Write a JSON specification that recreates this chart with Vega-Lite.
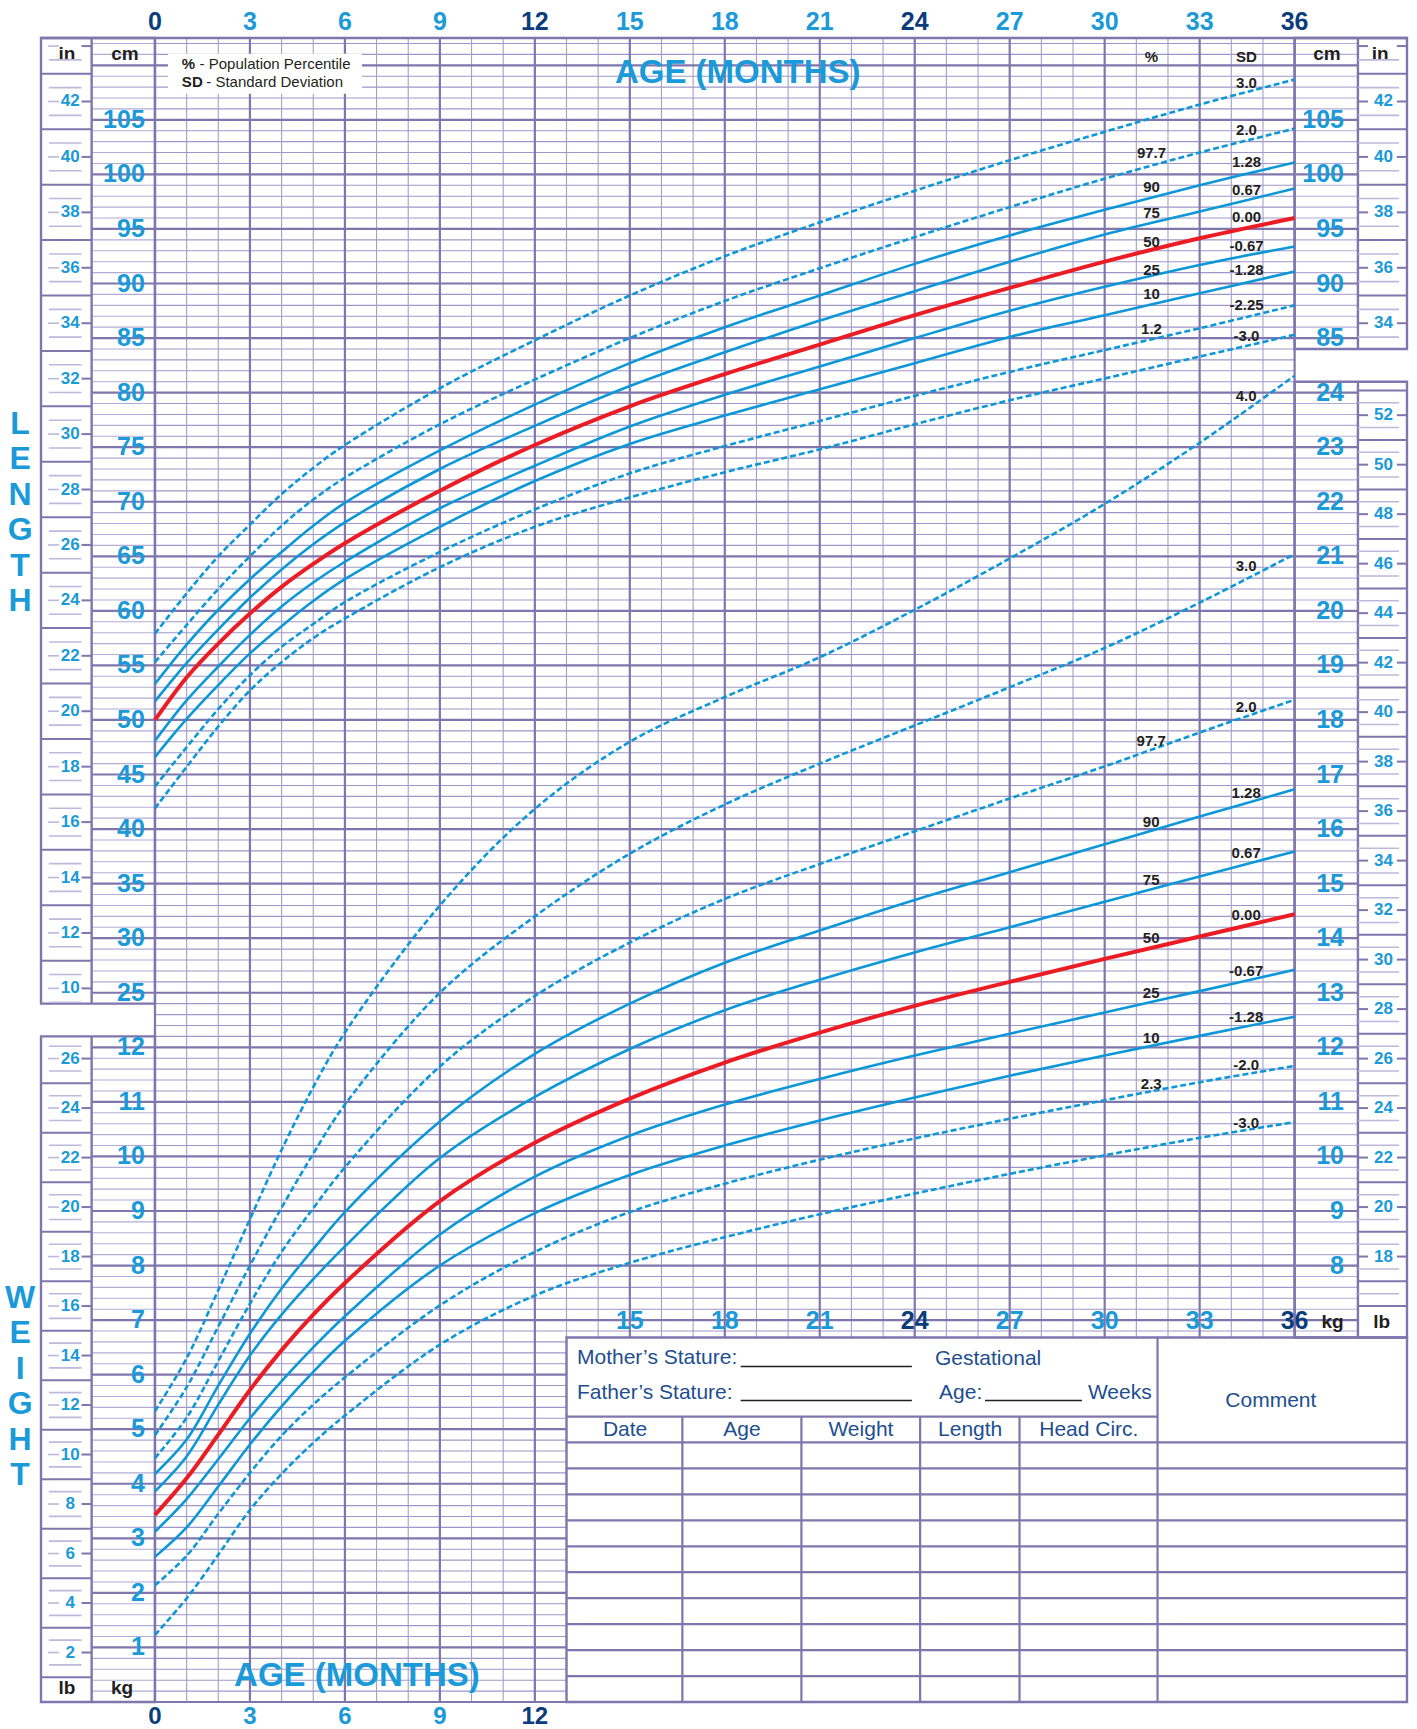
{
"$schema":"https://vega.github.io/schema/vega-lite/v6.json",
"width":1366,"height":1664,"autosize":{"type":"none"},
"padding":{"left":41,"top":38,"right":10,"bottom":27},
"background":"#ffffff",
"config":{"view":{"stroke":null},"text":{"font":"Liberation Sans"}},
"datasets":{
"len":[
{"sd":"3.0","m":0,"v":57.9},{"sd":"3.0","m":1,"v":61.6},{"sd":"3.0","m":2,"v":65.0},{"sd":"3.0","m":3,"v":67.9},{"sd":"3.0","m":4,"v":70.7},{"sd":"3.0","m":5,"v":73.1},{"sd":"3.0","m":6,"v":75.2},{"sd":"3.0","m":9,"v":80.4},{"sd":"3.0","m":12,"v":84.8},{"sd":"3.0","m":15,"v":88.9},{"sd":"3.0","m":18,"v":92.5},{"sd":"3.0","m":21,"v":95.6},{"sd":"3.0","m":24,"v":98.5},{"sd":"3.0","m":27,"v":101.3},{"sd":"3.0","m":30,"v":103.9},{"sd":"3.0","m":33,"v":106.4},{"sd":"3.0","m":36,"v":108.7},
{"sd":"2.0","m":0,"v":55.3},{"sd":"2.0","m":1,"v":58.7},{"sd":"2.0","m":2,"v":62.0},{"sd":"2.0","m":3,"v":65.0},{"sd":"2.0","m":4,"v":67.8},{"sd":"2.0","m":5,"v":70.2},{"sd":"2.0","m":6,"v":72.2},{"sd":"2.0","m":9,"v":77.1},{"sd":"2.0","m":12,"v":81.2},{"sd":"2.0","m":15,"v":85.0},{"sd":"2.0","m":18,"v":88.4},{"sd":"2.0","m":21,"v":91.4},{"sd":"2.0","m":24,"v":94.25},{"sd":"2.0","m":27,"v":97.0},{"sd":"2.0","m":30,"v":99.6},{"sd":"2.0","m":33,"v":102.0},{"sd":"2.0","m":36,"v":104.2},
{"sd":"1.28","m":0,"v":53.3},{"sd":"1.28","m":1,"v":56.9},{"sd":"1.28","m":2,"v":60.1},{"sd":"1.28","m":3,"v":62.9},{"sd":"1.28","m":4,"v":65.4},{"sd":"1.28","m":5,"v":67.8},{"sd":"1.28","m":6,"v":69.9},{"sd":"1.28","m":9,"v":74.7},{"sd":"1.28","m":12,"v":78.9},{"sd":"1.28","m":15,"v":82.7},{"sd":"1.28","m":18,"v":86.0},{"sd":"1.28","m":21,"v":88.9},{"sd":"1.28","m":24,"v":91.8},{"sd":"1.28","m":27,"v":94.4},{"sd":"1.28","m":30,"v":96.75},{"sd":"1.28","m":33,"v":99.0},{"sd":"1.28","m":36,"v":101.1},
{"sd":"0.67","m":0,"v":51.7},{"sd":"0.67","m":1,"v":55.2},{"sd":"0.67","m":2,"v":58.3},{"sd":"0.67","m":3,"v":61.2},{"sd":"0.67","m":4,"v":63.8},{"sd":"0.67","m":5,"v":66.1},{"sd":"0.67","m":6,"v":68.1},{"sd":"0.67","m":9,"v":73.0},{"sd":"0.67","m":12,"v":76.95},{"sd":"0.67","m":15,"v":80.6},{"sd":"0.67","m":18,"v":83.7},{"sd":"0.67","m":21,"v":86.6},{"sd":"0.67","m":24,"v":89.3},{"sd":"0.67","m":27,"v":92.0},{"sd":"0.67","m":30,"v":94.5},{"sd":"0.67","m":33,"v":96.6},{"sd":"0.67","m":36,"v":98.7},
{"sd":"0.00","m":0,"v":50.0},{"sd":"0.00","m":1,"v":53.9},{"sd":"0.00","m":2,"v":57.0},{"sd":"0.00","m":3,"v":59.75},{"sd":"0.00","m":4,"v":62.2},{"sd":"0.00","m":5,"v":64.3},{"sd":"0.00","m":6,"v":66.2},{"sd":"0.00","m":9,"v":71.0},{"sd":"0.00","m":12,"v":75.2},{"sd":"0.00","m":15,"v":78.75},{"sd":"0.00","m":18,"v":81.7},{"sd":"0.00","m":21,"v":84.4},{"sd":"0.00","m":24,"v":87.1},{"sd":"0.00","m":27,"v":89.6},{"sd":"0.00","m":30,"v":92.0},{"sd":"0.00","m":33,"v":94.15},{"sd":"0.00","m":36,"v":96.0},
{"sd":"-0.67","m":0,"v":48.1},{"sd":"-0.67","m":1,"v":51.8},{"sd":"-0.67","m":2,"v":54.9},{"sd":"-0.67","m":3,"v":57.8},{"sd":"-0.67","m":4,"v":60.4},{"sd":"-0.67","m":5,"v":62.6},{"sd":"-0.67","m":6,"v":64.5},{"sd":"-0.67","m":9,"v":69.4},{"sd":"-0.67","m":12,"v":73.3},{"sd":"-0.67","m":15,"v":76.9},{"sd":"-0.67","m":18,"v":79.8},{"sd":"-0.67","m":21,"v":82.4},{"sd":"-0.67","m":24,"v":85.0},{"sd":"-0.67","m":27,"v":87.5},{"sd":"-0.67","m":30,"v":89.7},{"sd":"-0.67","m":33,"v":91.7},{"sd":"-0.67","m":36,"v":93.4},
{"sd":"-1.28","m":0,"v":46.6},{"sd":"-1.28","m":1,"v":50.1},{"sd":"-1.28","m":2,"v":53.2},{"sd":"-1.28","m":3,"v":56.1},{"sd":"-1.28","m":4,"v":58.6},{"sd":"-1.28","m":5,"v":60.9},{"sd":"-1.28","m":6,"v":62.9},{"sd":"-1.28","m":9,"v":67.7},{"sd":"-1.28","m":12,"v":71.9},{"sd":"-1.28","m":15,"v":75.3},{"sd":"-1.28","m":18,"v":77.9},{"sd":"-1.28","m":21,"v":80.3},{"sd":"-1.28","m":24,"v":82.7},{"sd":"-1.28","m":27,"v":85.1},{"sd":"-1.28","m":30,"v":87.1},{"sd":"-1.28","m":33,"v":89.1},{"sd":"-1.28","m":36,"v":91.1},
{"sd":"-2.25","m":0,"v":43.9},{"sd":"-2.25","m":1,"v":47.5},{"sd":"-2.25","m":2,"v":51.0},{"sd":"-2.25","m":3,"v":54.1},{"sd":"-2.25","m":4,"v":56.7},{"sd":"-2.25","m":5,"v":58.8},{"sd":"-2.25","m":6,"v":60.8},{"sd":"-2.25","m":9,"v":65.4},{"sd":"-2.25","m":12,"v":69.3},{"sd":"-2.25","m":15,"v":72.6},{"sd":"-2.25","m":18,"v":75.1},{"sd":"-2.25","m":21,"v":77.4},{"sd":"-2.25","m":24,"v":79.7},{"sd":"-2.25","m":27,"v":81.9},{"sd":"-2.25","m":30,"v":83.9},{"sd":"-2.25","m":33,"v":85.9},{"sd":"-2.25","m":36,"v":88.0},
{"sd":"-3.0","m":0,"v":41.9},{"sd":"-3.0","m":1,"v":45.7},{"sd":"-3.0","m":2,"v":49.4},{"sd":"-3.0","m":3,"v":52.7},{"sd":"-3.0","m":4,"v":55.3},{"sd":"-3.0","m":5,"v":57.5},{"sd":"-3.0","m":6,"v":59.3},{"sd":"-3.0","m":9,"v":64.0},{"sd":"-3.0","m":12,"v":67.7},{"sd":"-3.0","m":15,"v":70.4},{"sd":"-3.0","m":18,"v":72.7},{"sd":"-3.0","m":21,"v":74.8},{"sd":"-3.0","m":24,"v":77.1},{"sd":"-3.0","m":27,"v":79.3},{"sd":"-3.0","m":30,"v":81.3},{"sd":"-3.0","m":33,"v":83.3},{"sd":"-3.0","m":36,"v":85.3}
],
"wt":[
{"sd":"4.0","m":0,"v":5.33},{"sd":"4.0","m":1,"v":6.3},{"sd":"4.0","m":2,"v":7.55},{"sd":"4.0","m":3,"v":8.85},{"sd":"4.0","m":4,"v":10.12},{"sd":"4.0","m":5,"v":11.27},{"sd":"4.0","m":6,"v":12.27},{"sd":"4.0","m":9,"v":14.6},{"sd":"4.0","m":12,"v":16.37},{"sd":"4.0","m":15,"v":17.6},{"sd":"4.0","m":18,"v":18.42},{"sd":"4.0","m":21,"v":19.15},{"sd":"4.0","m":24,"v":20.02},{"sd":"4.0","m":27,"v":20.96},{"sd":"4.0","m":30,"v":21.96},{"sd":"4.0","m":33,"v":23.08},{"sd":"4.0","m":36,"v":24.31},
{"sd":"3.0","m":0,"v":4.89},{"sd":"3.0","m":1,"v":5.77},{"sd":"3.0","m":2,"v":6.88},{"sd":"3.0","m":3,"v":8.0},{"sd":"3.0","m":4,"v":9.06},{"sd":"3.0","m":5,"v":10.05},{"sd":"3.0","m":6,"v":10.95},{"sd":"3.0","m":9,"v":13.0},{"sd":"3.0","m":12,"v":14.4},{"sd":"3.0","m":15,"v":15.55},{"sd":"3.0","m":18,"v":16.45},{"sd":"3.0","m":21,"v":17.2},{"sd":"3.0","m":24,"v":17.9},{"sd":"3.0","m":27,"v":18.6},{"sd":"3.0","m":30,"v":19.32},{"sd":"3.0","m":33,"v":20.15},{"sd":"3.0","m":36,"v":21.04},
{"sd":"2.0","m":0,"v":4.47},{"sd":"2.0","m":1,"v":5.21},{"sd":"2.0","m":2,"v":6.25},{"sd":"2.0","m":3,"v":7.3},{"sd":"2.0","m":4,"v":8.25},{"sd":"2.0","m":5,"v":9.05},{"sd":"2.0","m":6,"v":9.8},{"sd":"2.0","m":9,"v":11.65},{"sd":"2.0","m":12,"v":12.94},{"sd":"2.0","m":15,"v":13.92},{"sd":"2.0","m":18,"v":14.72},{"sd":"2.0","m":21,"v":15.36},{"sd":"2.0","m":24,"v":15.96},{"sd":"2.0","m":27,"v":16.56},{"sd":"2.0","m":30,"v":17.15},{"sd":"2.0","m":33,"v":17.77},{"sd":"2.0","m":36,"v":18.37},
{"sd":"1.28","m":0,"v":4.18},{"sd":"1.28","m":1,"v":4.81},{"sd":"1.28","m":2,"v":5.8},{"sd":"1.28","m":3,"v":6.75},{"sd":"1.28","m":4,"v":7.58},{"sd":"1.28","m":5,"v":8.3},{"sd":"1.28","m":6,"v":8.98},{"sd":"1.28","m":9,"v":10.64},{"sd":"1.28","m":12,"v":11.88},{"sd":"1.28","m":15,"v":12.8},{"sd":"1.28","m":18,"v":13.55},{"sd":"1.28","m":21,"v":14.14},{"sd":"1.28","m":24,"v":14.7},{"sd":"1.28","m":27,"v":15.21},{"sd":"1.28","m":30,"v":15.72},{"sd":"1.28","m":33,"v":16.23},{"sd":"1.28","m":36,"v":16.73},
{"sd":"0.67","m":0,"v":3.86},{"sd":"0.67","m":1,"v":4.5},{"sd":"0.67","m":2,"v":5.45},{"sd":"0.67","m":3,"v":6.35},{"sd":"0.67","m":4,"v":7.1},{"sd":"0.67","m":5,"v":7.75},{"sd":"0.67","m":6,"v":8.35},{"sd":"0.67","m":9,"v":9.97},{"sd":"0.67","m":12,"v":11.09},{"sd":"0.67","m":15,"v":11.97},{"sd":"0.67","m":18,"v":12.68},{"sd":"0.67","m":21,"v":13.24},{"sd":"0.67","m":24,"v":13.74},{"sd":"0.67","m":27,"v":14.2},{"sd":"0.67","m":30,"v":14.67},{"sd":"0.67","m":33,"v":15.13},{"sd":"0.67","m":36,"v":15.59},
{"sd":"0.00","m":0,"v":3.43},{"sd":"0.00","m":1,"v":4.1},{"sd":"0.00","m":2,"v":4.9},{"sd":"0.00","m":3,"v":5.72},{"sd":"0.00","m":4,"v":6.45},{"sd":"0.00","m":5,"v":7.1},{"sd":"0.00","m":6,"v":7.68},{"sd":"0.00","m":9,"v":9.18},{"sd":"0.00","m":12,"v":10.25},{"sd":"0.00","m":15,"v":11.06},{"sd":"0.00","m":18,"v":11.72},{"sd":"0.00","m":21,"v":12.27},{"sd":"0.00","m":24,"v":12.76},{"sd":"0.00","m":27,"v":13.2},{"sd":"0.00","m":30,"v":13.62},{"sd":"0.00","m":33,"v":14.03},{"sd":"0.00","m":36,"v":14.44},
{"sd":"-0.67","m":0,"v":3.12},{"sd":"-0.67","m":1,"v":3.72},{"sd":"-0.67","m":2,"v":4.45},{"sd":"-0.67","m":3,"v":5.2},{"sd":"-0.67","m":4,"v":5.88},{"sd":"-0.67","m":5,"v":6.5},{"sd":"-0.67","m":6,"v":7.07},{"sd":"-0.67","m":9,"v":8.57},{"sd":"-0.67","m":12,"v":9.63},{"sd":"-0.67","m":15,"v":10.38},{"sd":"-0.67","m":18,"v":10.95},{"sd":"-0.67","m":21,"v":11.42},{"sd":"-0.67","m":24,"v":11.85},{"sd":"-0.67","m":27,"v":12.25},{"sd":"-0.67","m":30,"v":12.64},{"sd":"-0.67","m":33,"v":13.03},{"sd":"-0.67","m":36,"v":13.42},
{"sd":"-1.28","m":0,"v":2.66},{"sd":"-1.28","m":1,"v":3.2},{"sd":"-1.28","m":2,"v":3.95},{"sd":"-1.28","m":3,"v":4.72},{"sd":"-1.28","m":4,"v":5.42},{"sd":"-1.28","m":5,"v":6.05},{"sd":"-1.28","m":6,"v":6.62},{"sd":"-1.28","m":9,"v":8.0},{"sd":"-1.28","m":12,"v":8.96},{"sd":"-1.28","m":15,"v":9.66},{"sd":"-1.28","m":18,"v":10.2},{"sd":"-1.28","m":21,"v":10.66},{"sd":"-1.28","m":24,"v":11.08},{"sd":"-1.28","m":27,"v":11.48},{"sd":"-1.28","m":30,"v":11.85},{"sd":"-1.28","m":33,"v":12.21},{"sd":"-1.28","m":36,"v":12.56},
{"sd":"-2.0","m":0,"v":2.14},{"sd":"-2.0","m":1,"v":2.68},{"sd":"-2.0","m":2,"v":3.45},{"sd":"-2.0","m":3,"v":4.2},{"sd":"-2.0","m":4,"v":4.88},{"sd":"-2.0","m":5,"v":5.45},{"sd":"-2.0","m":6,"v":5.95},{"sd":"-2.0","m":9,"v":7.27},{"sd":"-2.0","m":12,"v":8.25},{"sd":"-2.0","m":15,"v":8.98},{"sd":"-2.0","m":18,"v":9.5},{"sd":"-2.0","m":21,"v":9.94},{"sd":"-2.0","m":24,"v":10.33},{"sd":"-2.0","m":27,"v":10.69},{"sd":"-2.0","m":30,"v":11.03},{"sd":"-2.0","m":33,"v":11.36},{"sd":"-2.0","m":36,"v":11.66},
{"sd":"-3.0","m":0,"v":1.23},{"sd":"-3.0","m":1,"v":1.9},{"sd":"-3.0","m":2,"v":2.7},{"sd":"-3.0","m":3,"v":3.52},{"sd":"-3.0","m":4,"v":4.18},{"sd":"-3.0","m":5,"v":4.75},{"sd":"-3.0","m":6,"v":5.25},{"sd":"-3.0","m":9,"v":6.55},{"sd":"-3.0","m":12,"v":7.45},{"sd":"-3.0","m":15,"v":8.05},{"sd":"-3.0","m":18,"v":8.52},{"sd":"-3.0","m":21,"v":8.94},{"sd":"-3.0","m":24,"v":9.32},{"sd":"-3.0","m":27,"v":9.68},{"sd":"-3.0","m":30,"v":10.02},{"sd":"-3.0","m":33,"v":10.34},{"sd":"-3.0","m":36,"v":10.63}
],
"lenLab":[
{"t":"%","m":31.48,"v":110.8},{"t":"SD","m":34.48,"v":110.8},
{"t":"3.0","m":34.48,"v":108.4},{"t":"2.0","m":34.48,"v":104.1},{"t":"1.28","m":34.48,"v":101.15},{"t":"0.67","m":34.48,"v":98.6},{"t":"0.00","m":34.48,"v":96.1},{"t":"-0.67","m":34.48,"v":93.4},{"t":"-1.28","m":34.48,"v":91.25},{"t":"-2.25","m":34.48,"v":88.0},{"t":"-3.0","m":34.48,"v":85.2},
{"t":"97.7","m":31.48,"v":102.0},{"t":"90","m":31.48,"v":98.8},{"t":"75","m":31.48,"v":96.5},{"t":"50","m":31.48,"v":93.8},{"t":"25","m":31.48,"v":91.25},{"t":"10","m":31.48,"v":89.05},{"t":"1.2","m":31.48,"v":85.8}
],
"wtLab":[
{"t":"4.0","m":34.47,"v":23.94},{"t":"3.0","m":34.47,"v":20.82},{"t":"2.0","m":34.47,"v":18.23},{"t":"1.28","m":34.47,"v":16.66},{"t":"0.67","m":34.47,"v":15.57},{"t":"0.00","m":34.47,"v":14.43},{"t":"-0.67","m":34.47,"v":13.4},{"t":"-1.28","m":34.47,"v":12.56},{"t":"-2.0","m":34.47,"v":11.67},{"t":"-3.0","m":34.47,"v":10.61},
{"t":"97.7","m":31.47,"v":17.62},{"t":"90","m":31.47,"v":16.13},{"t":"75","m":31.47,"v":15.07},{"t":"50","m":31.47,"v":14.0},{"t":"25","m":31.47,"v":12.99},{"t":"10","m":31.47,"v":12.17},{"t":"2.3","m":31.47,"v":11.33}
],
"months":[{"m":0},{"m":3},{"m":6},{"m":9},{"m":12},{"m":15},{"m":18},{"m":21},{"m":24},{"m":27},{"m":30},{"m":33},{"m":36}],
"vlines":[{"m":0},{"m":1},{"m":2},{"m":3},{"m":4},{"m":5},{"m":6},{"m":7},{"m":8},{"m":9},{"m":10},{"m":11},{"m":12},{"m":13},{"m":14},{"m":15},{"m":16},{"m":17},{"m":18},{"m":19},{"m":20},{"m":21},{"m":22},{"m":23},{"m":24},{"m":25},{"m":26},{"m":27},{"m":28},{"m":29},{"m":30},{"m":31},{"m":32},{"m":33},{"m":34},{"m":35},{"m":36}],
"hMinor":[{"kg":0.2},{"kg":0.4},{"kg":0.6},{"kg":0.8},{"kg":1.2},{"kg":1.4},{"kg":1.6},{"kg":1.8},{"kg":2.2},{"kg":2.4},{"kg":2.6},{"kg":2.8},{"kg":3.2},{"kg":3.4},{"kg":3.6},{"kg":3.8},{"kg":4.2},{"kg":4.4},{"kg":4.6},{"kg":4.8},{"kg":5.2},{"kg":5.4},{"kg":5.6},{"kg":5.8},{"kg":6.2},{"kg":6.4},{"kg":6.6},{"kg":6.8},{"kg":7.2},{"kg":7.4},{"kg":7.6},{"kg":7.8},{"kg":8.2},{"kg":8.4},{"kg":8.6},{"kg":8.8},{"kg":9.2},{"kg":9.4},{"kg":9.6},{"kg":9.8},{"kg":10.2},{"kg":10.4},{"kg":10.6},{"kg":10.8},{"kg":11.2},{"kg":11.4},{"kg":11.6},{"kg":11.8},{"kg":12.2},{"kg":12.4},{"kg":12.6},{"kg":12.8},{"kg":13.2},{"kg":13.4},{"kg":13.6},{"kg":13.8},{"kg":14.2},{"kg":14.4},{"kg":14.6},{"kg":14.8},{"kg":15.2},{"kg":15.4},{"kg":15.6},{"kg":15.8},{"kg":16.2},{"kg":16.4},{"kg":16.6},{"kg":16.8},{"kg":17.2},{"kg":17.4},{"kg":17.6},{"kg":17.8},{"kg":18.2},{"kg":18.4},{"kg":18.6},{"kg":18.8},{"kg":19.2},{"kg":19.4},{"kg":19.6},{"kg":19.8},{"kg":20.2},{"kg":20.4},{"kg":20.6},{"kg":20.8},{"kg":21.2},{"kg":21.4},{"kg":21.6},{"kg":21.8},{"kg":22.2},{"kg":22.4},{"kg":22.6},{"kg":22.8},{"kg":23.2},{"kg":23.4},{"kg":23.6},{"kg":23.8},{"kg":24.2},{"kg":24.4},{"kg":24.6},{"kg":24.8},{"kg":25.2},{"kg":25.4},{"kg":25.6},{"kg":25.8},{"kg":26.2},{"kg":26.4},{"kg":26.6},{"kg":26.8},{"kg":27.2},{"kg":27.4},{"kg":27.6},{"kg":27.8},{"kg":28.2},{"kg":28.4},{"kg":28.6},{"kg":28.8},{"kg":29.2},{"kg":29.4},{"kg":29.6},{"kg":29.8},{"kg":30.2},{"kg":30.4}],
"hMajor":[{"kg":0},{"kg":1},{"kg":2},{"kg":3},{"kg":4},{"kg":5},{"kg":6},{"kg":7},{"kg":8},{"kg":9},{"kg":10},{"kg":11},{"kg":12},{"kg":13},{"kg":14},{"kg":15},{"kg":16},{"kg":17},{"kg":18},{"kg":19},{"kg":20},{"kg":21},{"kg":22},{"kg":23},{"kg":24},{"kg":25},{"kg":26},{"kg":27},{"kg":28},{"kg":29},{"kg":30}],
"cm":[{"v":25},{"v":30},{"v":35},{"v":40},{"v":45},{"v":50},{"v":55},{"v":60},{"v":65},{"v":70},{"v":75},{"v":80},{"v":85},{"v":90},{"v":95},{"v":100},{"v":105}],
"kg":[{"v":1},{"v":2},{"v":3},{"v":4},{"v":5},{"v":6},{"v":7},{"v":8},{"v":9},{"v":10},{"v":11},{"v":12},{"v":13},{"v":14},{"v":15},{"v":16},{"v":17},{"v":18},{"v":19},{"v":20},{"v":21},{"v":22},{"v":23},{"v":24}],
"inch":[{"v":9.5},{"v":10},{"v":10.5},{"v":11},{"v":11.5},{"v":12},{"v":12.5},{"v":13},{"v":13.5},{"v":14},{"v":14.5},{"v":15},{"v":15.5},{"v":16},{"v":16.5},{"v":17},{"v":17.5},{"v":18},{"v":18.5},{"v":19},{"v":19.5},{"v":20},{"v":20.5},{"v":21},{"v":21.5},{"v":22},{"v":22.5},{"v":23},{"v":23.5},{"v":24},{"v":24.5},{"v":25},{"v":25.5},{"v":26},{"v":26.5},{"v":27},{"v":27.5},{"v":28},{"v":28.5},{"v":29},{"v":29.5},{"v":30},{"v":30.5},{"v":31},{"v":31.5},{"v":32},{"v":32.5},{"v":33},{"v":33.5},{"v":34},{"v":34.5},{"v":35},{"v":35.5},{"v":36},{"v":36.5},{"v":37},{"v":37.5},{"v":38},{"v":38.5},{"v":39},{"v":39.5},{"v":40},{"v":40.5},{"v":41},{"v":41.5},{"v":42},{"v":42.5},{"v":43},{"v":43.5},{"v":44}],
"lb":[{"v":0.5},{"v":1},{"v":1.5},{"v":2},{"v":2.5},{"v":3},{"v":3.5},{"v":4},{"v":4.5},{"v":5},{"v":5.5},{"v":6},{"v":6.5},{"v":7},{"v":7.5},{"v":8},{"v":8.5},{"v":9},{"v":9.5},{"v":10},{"v":10.5},{"v":11},{"v":11.5},{"v":12},{"v":12.5},{"v":13},{"v":13.5},{"v":14},{"v":14.5},{"v":15},{"v":15.5},{"v":16},{"v":16.5},{"v":17},{"v":17.5},{"v":18},{"v":18.5},{"v":19},{"v":19.5},{"v":20},{"v":20.5},{"v":21},{"v":21.5},{"v":22},{"v":22.5},{"v":23},{"v":23.5},{"v":24},{"v":24.5},{"v":25},{"v":25.5},{"v":26},{"v":26.5},{"v":27},{"v":27.5},{"v":28},{"v":28.5},{"v":29},{"v":29.5},{"v":30},{"v":30.5},{"v":31},{"v":31.5},{"v":32},{"v":32.5},{"v":33},{"v":33.5},{"v":34},{"v":34.5},{"v":35},{"v":35.5},{"v":36},{"v":36.5},{"v":37},{"v":37.5},{"v":38},{"v":38.5},{"v":39},{"v":39.5},{"v":40},{"v":40.5},{"v":41},{"v":41.5},{"v":42},{"v":42.5},{"v":43},{"v":43.5},{"v":44},{"v":44.5},{"v":45},{"v":45.5},{"v":46},{"v":46.5},{"v":47},{"v":47.5},{"v":48},{"v":48.5},{"v":49},{"v":49.5},{"v":50},{"v":50.5},{"v":51},{"v":51.5},{"v":52},{"v":52.5},{"v":53}],
"tRows":[{"kg":0.476},{"kg":0.951},{"kg":1.427},{"kg":1.903},{"kg":2.379},{"kg":2.854},{"kg":3.33},{"kg":3.806},{"kg":4.281},{"kg":4.757}],
"tCols":[{"m":16.66},{"m":20.42},{"m":24.17},{"m":27.31}],
"tHead":[{"t":"Date","m":14.85},{"t":"Age","m":18.54},{"t":"Weight","m":22.3},{"t":"Length","m":25.75},{"t":"Head Circ.","m":29.5}]
},
"resolve":{"scale":{"y":"independent"}},
"layer":[
{"layer":[
{"data":{"name":"hMinor"},"transform":[{"filter":"datum.kg > 6.68"}],"mark":{"type":"rule","color":"#9d97c7","strokeWidth":1.1},"encoding":{"x":{"datum":0,"type":"quantitative","scale":{"domain":[-3.6,39.55],"nice":false,"zero":false},"axis":null},"x2":{"datum":36},"y":{"field":"kg","type":"quantitative","scale":{"domain":[0,30.5],"nice":false,"zero":false},"axis":null}}},
{"data":{"name":"hMinor"},"transform":[{"filter":"datum.kg < 6.68"}],"mark":{"type":"rule","color":"#9d97c7","strokeWidth":1.1},"encoding":{"x":{"datum":0,"type":"quantitative","scale":{"domain":[-3.6,39.55],"nice":false,"zero":false},"axis":null},"x2":{"datum":13},"y":{"field":"kg","type":"quantitative","scale":{"domain":[0,30.5],"nice":false,"zero":false},"axis":null}}},
{"data":{"name":"hMinor"},"transform":[{"filter":"datum.kg < 12.19 || datum.kg > 12.81"}],"mark":{"type":"rule","color":"#b2acd6","strokeWidth":1.1},"encoding":{"x":{"datum":-2,"type":"quantitative","scale":{"domain":[-3.6,39.55],"nice":false,"zero":false},"axis":null},"x2":{"datum":0},"y":{"field":"kg","type":"quantitative","scale":{"domain":[0,30.5],"nice":false,"zero":false},"axis":null}}},
{"data":{"name":"hMinor"},"transform":[{"filter":"(datum.kg > 6.68 && datum.kg < 24.19) || datum.kg > 24.81"}],"mark":{"type":"rule","color":"#b2acd6","strokeWidth":1.1},"encoding":{"x":{"datum":36,"type":"quantitative","scale":{"domain":[-3.6,39.55],"nice":false,"zero":false},"axis":null},"x2":{"datum":38},"y":{"field":"kg","type":"quantitative","scale":{"domain":[0,30.5],"nice":false,"zero":false},"axis":null}}},
{"data":{"name":"vlines"},"transform":[{"filter":"datum.m % 3 != 0 && datum.m <= 13"}],"mark":{"type":"rule","color":"#a49ecb","strokeWidth":1.1},"encoding":{"x":{"field":"m","type":"quantitative","scale":{"domain":[-3.6,39.55],"nice":false,"zero":false},"axis":null},"y":{"datum":0,"type":"quantitative","scale":{"domain":[0,30.5],"nice":false,"zero":false},"axis":null},"y2":{"datum":30.5}}},
{"data":{"name":"vlines"},"transform":[{"filter":"datum.m % 3 != 0 && datum.m > 13"}],"mark":{"type":"rule","color":"#a49ecb","strokeWidth":1.1},"encoding":{"x":{"field":"m","type":"quantitative","scale":{"domain":[-3.6,39.55],"nice":false,"zero":false},"axis":null},"y":{"datum":6.68,"type":"quantitative","scale":{"domain":[0,30.5],"nice":false,"zero":false},"axis":null},"y2":{"datum":30.5}}},
{"data":{"name":"hMajor"},"transform":[{"filter":"datum.kg > 6.68"}],"mark":{"type":"rule","color":"#7f76ad","strokeWidth":2.2},"encoding":{"x":{"datum":0,"type":"quantitative","scale":{"domain":[-3.6,39.55],"nice":false,"zero":false},"axis":null},"x2":{"datum":36},"y":{"field":"kg","type":"quantitative","scale":{"domain":[0,30.5],"nice":false,"zero":false},"axis":null}}},
{"data":{"name":"hMajor"},"transform":[{"filter":"datum.kg < 6.68"}],"mark":{"type":"rule","color":"#7f76ad","strokeWidth":2.2},"encoding":{"x":{"datum":0,"type":"quantitative","scale":{"domain":[-3.6,39.55],"nice":false,"zero":false},"axis":null},"x2":{"datum":13},"y":{"field":"kg","type":"quantitative","scale":{"domain":[0,30.5],"nice":false,"zero":false},"axis":null}}},
{"data":{"name":"hMajor"},"transform":[{"filter":"datum.kg < 12.19 || datum.kg > 12.81"}],"mark":{"type":"rule","color":"#7f76ad","strokeWidth":2.2},"encoding":{"x":{"datum":-2,"type":"quantitative","scale":{"domain":[-3.6,39.55],"nice":false,"zero":false},"axis":null},"x2":{"datum":0},"y":{"field":"kg","type":"quantitative","scale":{"domain":[0,30.5],"nice":false,"zero":false},"axis":null}}},
{"data":{"name":"hMajor"},"transform":[{"filter":"(datum.kg > 6.68 && datum.kg < 24.19) || datum.kg > 24.81"}],"mark":{"type":"rule","color":"#7f76ad","strokeWidth":2.2},"encoding":{"x":{"datum":36,"type":"quantitative","scale":{"domain":[-3.6,39.55],"nice":false,"zero":false},"axis":null},"x2":{"datum":38},"y":{"field":"kg","type":"quantitative","scale":{"domain":[0,30.5],"nice":false,"zero":false},"axis":null}}},
{"data":{"name":"vlines"},"transform":[{"filter":"datum.m % 3 == 0 && datum.m <= 13"}],"mark":{"type":"rule","color":"#7f76ad","strokeWidth":2.2},"encoding":{"x":{"field":"m","type":"quantitative","scale":{"domain":[-3.6,39.55],"nice":false,"zero":false},"axis":null},"y":{"datum":0,"type":"quantitative","scale":{"domain":[0,30.5],"nice":false,"zero":false},"axis":null},"y2":{"datum":30.5}}},
{"data":{"name":"vlines"},"transform":[{"filter":"datum.m % 3 == 0 && datum.m > 13"}],"mark":{"type":"rule","color":"#7f76ad","strokeWidth":2.2},"encoding":{"x":{"field":"m","type":"quantitative","scale":{"domain":[-3.6,39.55],"nice":false,"zero":false},"axis":null},"y":{"datum":6.68,"type":"quantitative","scale":{"domain":[0,30.5],"nice":false,"zero":false},"axis":null},"y2":{"datum":30.5}}},
{"data":{"values":[{}]},"mark":{"type":"rule","color":"#7f76ad","strokeWidth":2.4},"encoding":{"x":{"datum":-3.6,"type":"quantitative","scale":{"domain":[-3.6,39.55],"nice":false,"zero":false},"axis":null},"x2":{"datum":39.55},"y":{"datum":30.5,"type":"quantitative","scale":{"domain":[0,30.5],"nice":false,"zero":false},"axis":null}}},
{"data":{"values":[{}]},"mark":{"type":"rect","filled":false,"color":"#7f76ad","strokeWidth":2.4},"encoding":{"x":{"datum":-3.6,"type":"quantitative","scale":{"domain":[-3.6,39.55],"nice":false,"zero":false},"axis":null},"x2":{"datum":0},"y":{"datum":12.8,"type":"quantitative","scale":{"domain":[0,30.5],"nice":false,"zero":false},"axis":null},"y2":{"datum":30.5}}},
{"data":{"values":[{}]},"mark":{"type":"rect","filled":false,"color":"#7f76ad","strokeWidth":2.4},"encoding":{"x":{"datum":-3.6,"type":"quantitative","scale":{"domain":[-3.6,39.55],"nice":false,"zero":false},"axis":null},"x2":{"datum":0},"y":{"datum":0,"type":"quantitative","scale":{"domain":[0,30.5],"nice":false,"zero":false},"axis":null},"y2":{"datum":12.2}}},
{"data":{"values":[{}]},"mark":{"type":"rect","filled":false,"color":"#7f76ad","strokeWidth":2.4},"encoding":{"x":{"datum":36,"type":"quantitative","scale":{"domain":[-3.6,39.55],"nice":false,"zero":false},"axis":null},"x2":{"datum":39.55},"y":{"datum":24.8,"type":"quantitative","scale":{"domain":[0,30.5],"nice":false,"zero":false},"axis":null},"y2":{"datum":30.5}}},
{"data":{"values":[{}]},"mark":{"type":"rect","filled":false,"color":"#7f76ad","strokeWidth":2.4},"encoding":{"x":{"datum":36,"type":"quantitative","scale":{"domain":[-3.6,39.55],"nice":false,"zero":false},"axis":null},"x2":{"datum":39.55},"y":{"datum":6.68,"type":"quantitative","scale":{"domain":[0,30.5],"nice":false,"zero":false},"axis":null},"y2":{"datum":24.2}}},
{"data":{"values":[{}]},"mark":{"type":"rule","color":"#7f76ad","strokeWidth":2.4},"encoding":{"x":{"datum":-2,"type":"quantitative","scale":{"domain":[-3.6,39.55],"nice":false,"zero":false},"axis":null},"y":{"datum":12.8,"type":"quantitative","scale":{"domain":[0,30.5],"nice":false,"zero":false},"axis":null},"y2":{"datum":30.5}}},
{"data":{"values":[{}]},"mark":{"type":"rule","color":"#7f76ad","strokeWidth":2.4},"encoding":{"x":{"datum":-2,"type":"quantitative","scale":{"domain":[-3.6,39.55],"nice":false,"zero":false},"axis":null},"y":{"datum":0,"type":"quantitative","scale":{"domain":[0,30.5],"nice":false,"zero":false},"axis":null},"y2":{"datum":12.2}}},
{"data":{"values":[{}]},"mark":{"type":"rule","color":"#7f76ad","strokeWidth":2.4},"encoding":{"x":{"datum":38,"type":"quantitative","scale":{"domain":[-3.6,39.55],"nice":false,"zero":false},"axis":null},"y":{"datum":24.8,"type":"quantitative","scale":{"domain":[0,30.5],"nice":false,"zero":false},"axis":null},"y2":{"datum":30.5}}},
{"data":{"values":[{}]},"mark":{"type":"rule","color":"#7f76ad","strokeWidth":2.4},"encoding":{"x":{"datum":38,"type":"quantitative","scale":{"domain":[-3.6,39.55],"nice":false,"zero":false},"axis":null},"y":{"datum":6.68,"type":"quantitative","scale":{"domain":[0,30.5],"nice":false,"zero":false},"axis":null},"y2":{"datum":24.2}}},
{"data":{"values":[{}]},"mark":{"type":"rect","filled":false,"color":"#7f76ad","strokeWidth":2.4},"encoding":{"x":{"datum":13,"type":"quantitative","scale":{"domain":[-3.6,39.55],"nice":false,"zero":false},"axis":null},"x2":{"datum":39.55},"y":{"datum":0,"type":"quantitative","scale":{"domain":[0,30.5],"nice":false,"zero":false},"axis":null},"y2":{"datum":6.68}}},
{"data":{"name":"tRows"},"mark":{"type":"rule","color":"#7f76ad","strokeWidth":2.2},"encoding":{"x":{"datum":13,"type":"quantitative","scale":{"domain":[-3.6,39.55],"nice":false,"zero":false},"axis":null},"x2":{"datum":39.55},"y":{"field":"kg","type":"quantitative","scale":{"domain":[0,30.5],"nice":false,"zero":false},"axis":null}}},
{"data":{"values":[{}]},"mark":{"type":"rule","color":"#7f76ad","strokeWidth":2.2},"encoding":{"x":{"datum":13,"type":"quantitative","scale":{"domain":[-3.6,39.55],"nice":false,"zero":false},"axis":null},"x2":{"datum":31.67},"y":{"datum":5.23,"type":"quantitative","scale":{"domain":[0,30.5],"nice":false,"zero":false},"axis":null}}},
{"data":{"name":"tCols"},"mark":{"type":"rule","color":"#7f76ad","strokeWidth":2.2},"encoding":{"x":{"field":"m","type":"quantitative","scale":{"domain":[-3.6,39.55],"nice":false,"zero":false},"axis":null},"y":{"datum":0,"type":"quantitative","scale":{"domain":[0,30.5],"nice":false,"zero":false},"axis":null},"y2":{"datum":5.23}}},
{"data":{"values":[{}]},"mark":{"type":"rule","color":"#7f76ad","strokeWidth":2.2},"encoding":{"x":{"datum":31.67,"type":"quantitative","scale":{"domain":[-3.6,39.55],"nice":false,"zero":false},"axis":null},"y":{"datum":0,"type":"quantitative","scale":{"domain":[0,30.5],"nice":false,"zero":false},"axis":null},"y2":{"datum":6.68}}},
{"data":{"values":[{}]},"mark":{"type":"rect","color":"#ffffff"},"encoding":{"x":{"datum":0.41,"type":"quantitative","scale":{"domain":[-3.6,39.55],"nice":false,"zero":false},"axis":null},"x2":{"datum":6.54},"y":{"datum":29.48,"type":"quantitative","scale":{"domain":[0,30.5],"nice":false,"zero":false},"axis":null},"y2":{"datum":30.21}}},
{"data":{"name":"wt"},"transform":[{"filter":{"field":"sd","oneOf":["1.28","0.67","-0.67","-1.28"]}}],"mark":{"type":"line","color":"#0b97d8","strokeWidth":2.6,"interpolate":"catmull-rom"},"encoding":{"x":{"field":"m","type":"quantitative","scale":{"domain":[-3.6,39.55],"nice":false,"zero":false},"axis":null},"y":{"field":"v","type":"quantitative","scale":{"domain":[0,30.5],"nice":false,"zero":false},"axis":null},"detail":{"field":"sd"}}},
{"data":{"name":"wt"},"transform":[{"filter":{"field":"sd","oneOf":["4.0","3.0","2.0","-2.0","-3.0"]}}],"mark":{"type":"line","color":"#0b97d8","strokeWidth":2.6,"strokeDash":[6,3],"interpolate":"catmull-rom"},"encoding":{"x":{"field":"m","type":"quantitative","scale":{"domain":[-3.6,39.55],"nice":false,"zero":false},"axis":null},"y":{"field":"v","type":"quantitative","scale":{"domain":[0,30.5],"nice":false,"zero":false},"axis":null},"detail":{"field":"sd"}}},
{"data":{"name":"wt"},"transform":[{"filter":{"field":"sd","equal":"0.00"}}],"mark":{"type":"line","color":"#ec1c24","strokeWidth":4,"interpolate":"catmull-rom"},"encoding":{"x":{"field":"m","type":"quantitative","scale":{"domain":[-3.6,39.55],"nice":false,"zero":false},"axis":null},"y":{"field":"v","type":"quantitative","scale":{"domain":[0,30.5],"nice":false,"zero":false},"axis":null}}},
{"data":{"name":"wtLab"},"mark":{"type":"text","fontSize":15,"fontWeight":"bold","color":"#231f20","align":"center","baseline":"middle"},"encoding":{"x":{"field":"m","type":"quantitative","scale":{"domain":[-3.6,39.55],"nice":false,"zero":false},"axis":null},"y":{"field":"v","type":"quantitative","scale":{"domain":[0,30.5],"nice":false,"zero":false},"axis":null},"text":{"field":"t"}}},
{"data":{"name":"kg"},"transform":[{"filter":"datum.v <= 12"}],"mark":{"type":"text","fontSize":25,"fontWeight":"bold","color":"#1a9ad8","align":"right","baseline":"middle"},"encoding":{"x":{"datum":-0.32,"type":"quantitative","scale":{"domain":[-3.6,39.55],"nice":false,"zero":false},"axis":null},"y":{"field":"v","type":"quantitative","scale":{"domain":[0,30.5],"nice":false,"zero":false},"axis":null},"text":{"field":"v","type":"quantitative"}}},
{"data":{"name":"kg"},"transform":[{"filter":"datum.v >= 8"}],"mark":{"type":"text","fontSize":25,"fontWeight":"bold","color":"#1a9ad8","align":"right","baseline":"middle"},"encoding":{"x":{"datum":37.56,"type":"quantitative","scale":{"domain":[-3.6,39.55],"nice":false,"zero":false},"axis":null},"y":{"field":"v","type":"quantitative","scale":{"domain":[0,30.5],"nice":false,"zero":false},"axis":null},"text":{"field":"v","type":"quantitative"}}},
{"data":{"name":"months"},"mark":{"type":"text","fontSize":25,"fontWeight":"bold","align":"center","baseline":"middle"},"encoding":{"x":{"field":"m","type":"quantitative","scale":{"domain":[-3.6,39.55],"nice":false,"zero":false},"axis":null},"y":{"datum":30.8,"type":"quantitative","scale":{"domain":[0,30.5],"nice":false,"zero":false},"axis":null},"text":{"field":"m","type":"quantitative"},"color":{"condition":{"test":"datum.m % 12 == 0","value":"#0b3d7d"},"value":"#1a9ad8"}}},
{"data":{"name":"months"},"transform":[{"filter":"datum.m >= 15"}],"mark":{"type":"text","fontSize":25,"fontWeight":"bold","align":"center","baseline":"middle"},"encoding":{"x":{"field":"m","type":"quantitative","scale":{"domain":[-3.6,39.55],"nice":false,"zero":false},"axis":null},"y":{"datum":6.99,"type":"quantitative","scale":{"domain":[0,30.5],"nice":false,"zero":false},"axis":null},"text":{"field":"m","type":"quantitative"},"color":{"condition":{"test":"datum.m % 12 == 0","value":"#0b3d7d"},"value":"#1a9ad8"}}},
{"data":{"name":"months"},"transform":[{"filter":"datum.m <= 12"}],"mark":{"type":"text","fontSize":24,"fontWeight":"bold","align":"center","baseline":"middle"},"encoding":{"x":{"field":"m","type":"quantitative","scale":{"domain":[-3.6,39.55],"nice":false,"zero":false},"axis":null},"y":{"datum":-0.27,"type":"quantitative","scale":{"domain":[0,30.5],"nice":false,"zero":false},"axis":null},"text":{"field":"m","type":"quantitative"},"color":{"condition":{"test":"datum.m % 12 == 0","value":"#0b3d7d"},"value":"#1a9ad8"}}},
{"data":{"values":[{}]},"mark":{"type":"text","text":"AGE (MONTHS)","fontSize":33,"fontWeight":"bold","color":"#1a9ad8","align":"center","baseline":"middle"},"encoding":{"x":{"datum":18.41,"type":"quantitative","scale":{"domain":[-3.6,39.55],"nice":false,"zero":false},"axis":null},"y":{"datum":29.85,"type":"quantitative","scale":{"domain":[0,30.5],"nice":false,"zero":false},"axis":null}}},
{"data":{"values":[{}]},"mark":{"type":"text","text":"AGE (MONTHS)","fontSize":33,"fontWeight":"bold","color":"#1a9ad8","align":"center","baseline":"middle"},"encoding":{"x":{"datum":6.38,"type":"quantitative","scale":{"domain":[-3.6,39.55],"nice":false,"zero":false},"axis":null},"y":{"datum":0.47,"type":"quantitative","scale":{"domain":[0,30.5],"nice":false,"zero":false},"axis":null}}},
{"data":{"values":[{}]},"mark":{"type":"text","text":"L|E|N|G|T|H","lineBreak":"|","lineHeight":35.5,"fontSize":32,"fontWeight":"bold","color":"#1a9ad8","align":"center","baseline":"middle"},"encoding":{"x":{"datum":-4.26,"type":"quantitative","scale":{"domain":[-3.6,39.55],"nice":false,"zero":false},"axis":null},"y":{"datum":23.43,"type":"quantitative","scale":{"domain":[0,30.5],"nice":false,"zero":false},"axis":null}}},
{"data":{"values":[{}]},"mark":{"type":"text","text":"W|E|I|G|H|T","lineBreak":"|","lineHeight":35.5,"fontSize":32,"fontWeight":"bold","color":"#1a9ad8","align":"center","baseline":"middle"},"encoding":{"x":{"datum":-4.26,"type":"quantitative","scale":{"domain":[-3.6,39.55],"nice":false,"zero":false},"axis":null},"y":{"datum":7.41,"type":"quantitative","scale":{"domain":[0,30.5],"nice":false,"zero":false},"axis":null}}},
{"data":{"values":[{}]},"mark":{"type":"text","text":"%","fontSize":15,"fontWeight":"bold","color":"#231f20","align":"left","baseline":"middle"},"encoding":{"x":{"datum":0.85,"type":"quantitative","scale":{"domain":[-3.6,39.55],"nice":false,"zero":false},"axis":null},"y":{"datum":30.03,"type":"quantitative","scale":{"domain":[0,30.5],"nice":false,"zero":false},"axis":null}}},
{"data":{"values":[{}]},"mark":{"type":"text","text":"- Population Percentile","fontSize":15,"color":"#231f20","align":"left","baseline":"middle"},"encoding":{"x":{"datum":1.41,"type":"quantitative","scale":{"domain":[-3.6,39.55],"nice":false,"zero":false},"axis":null},"y":{"datum":30.03,"type":"quantitative","scale":{"domain":[0,30.5],"nice":false,"zero":false},"axis":null}}},
{"data":{"values":[{}]},"mark":{"type":"text","text":"SD","fontSize":15,"fontWeight":"bold","color":"#231f20","align":"left","baseline":"middle"},"encoding":{"x":{"datum":0.85,"type":"quantitative","scale":{"domain":[-3.6,39.55],"nice":false,"zero":false},"axis":null},"y":{"datum":29.7,"type":"quantitative","scale":{"domain":[0,30.5],"nice":false,"zero":false},"axis":null}}},
{"data":{"values":[{}]},"mark":{"type":"text","text":"- Standard Deviation","fontSize":15,"color":"#231f20","align":"left","baseline":"middle"},"encoding":{"x":{"datum":1.62,"type":"quantitative","scale":{"domain":[-3.6,39.55],"nice":false,"zero":false},"axis":null},"y":{"datum":29.7,"type":"quantitative","scale":{"domain":[0,30.5],"nice":false,"zero":false},"axis":null}}},
{"data":{"values":[{}]},"mark":{"type":"text","text":"in","fontSize":19,"fontWeight":"bold","color":"#231f20","align":"center","baseline":"middle"},"encoding":{"x":{"datum":-2.78,"type":"quantitative","scale":{"domain":[-3.6,39.55],"nice":false,"zero":false},"axis":null},"y":{"datum":30.21,"type":"quantitative","scale":{"domain":[0,30.5],"nice":false,"zero":false},"axis":null}}},
{"data":{"values":[{}]},"mark":{"type":"text","text":"cm","fontSize":19,"fontWeight":"bold","color":"#231f20","align":"center","baseline":"middle"},"encoding":{"x":{"datum":-0.95,"type":"quantitative","scale":{"domain":[-3.6,39.55],"nice":false,"zero":false},"axis":null},"y":{"datum":30.21,"type":"quantitative","scale":{"domain":[0,30.5],"nice":false,"zero":false},"axis":null}}},
{"data":{"values":[{}]},"mark":{"type":"text","text":"cm","fontSize":19,"fontWeight":"bold","color":"#231f20","align":"center","baseline":"middle"},"encoding":{"x":{"datum":37.02,"type":"quantitative","scale":{"domain":[-3.6,39.55],"nice":false,"zero":false},"axis":null},"y":{"datum":30.21,"type":"quantitative","scale":{"domain":[0,30.5],"nice":false,"zero":false},"axis":null}}},
{"data":{"values":[{}]},"mark":{"type":"text","text":"in","fontSize":19,"fontWeight":"bold","color":"#231f20","align":"center","baseline":"middle"},"encoding":{"x":{"datum":38.7,"type":"quantitative","scale":{"domain":[-3.6,39.55],"nice":false,"zero":false},"axis":null},"y":{"datum":30.21,"type":"quantitative","scale":{"domain":[0,30.5],"nice":false,"zero":false},"axis":null}}},
{"data":{"values":[{}]},"mark":{"type":"text","text":"lb","fontSize":19,"fontWeight":"bold","color":"#231f20","align":"center","baseline":"middle"},"encoding":{"x":{"datum":-2.78,"type":"quantitative","scale":{"domain":[-3.6,39.55],"nice":false,"zero":false},"axis":null},"y":{"datum":0.25,"type":"quantitative","scale":{"domain":[0,30.5],"nice":false,"zero":false},"axis":null}}},
{"data":{"values":[{}]},"mark":{"type":"text","text":"kg","fontSize":19,"fontWeight":"bold","color":"#231f20","align":"center","baseline":"middle"},"encoding":{"x":{"datum":-1.04,"type":"quantitative","scale":{"domain":[-3.6,39.55],"nice":false,"zero":false},"axis":null},"y":{"datum":0.25,"type":"quantitative","scale":{"domain":[0,30.5],"nice":false,"zero":false},"axis":null}}},
{"data":{"values":[{}]},"mark":{"type":"text","text":"kg","fontSize":19,"fontWeight":"bold","color":"#231f20","align":"center","baseline":"middle"},"encoding":{"x":{"datum":37.2,"type":"quantitative","scale":{"domain":[-3.6,39.55],"nice":false,"zero":false},"axis":null},"y":{"datum":6.96,"type":"quantitative","scale":{"domain":[0,30.5],"nice":false,"zero":false},"axis":null}}},
{"data":{"values":[{}]},"mark":{"type":"text","text":"lb","fontSize":19,"fontWeight":"bold","color":"#231f20","align":"center","baseline":"middle"},"encoding":{"x":{"datum":38.75,"type":"quantitative","scale":{"domain":[-3.6,39.55],"nice":false,"zero":false},"axis":null},"y":{"datum":6.96,"type":"quantitative","scale":{"domain":[0,30.5],"nice":false,"zero":false},"axis":null}}},
{"data":{"values":[{}]},"mark":{"type":"text","text":"Mother’s Stature:","fontSize":21,"color":"#1d4e8f","align":"left","baseline":"middle"},"encoding":{"x":{"datum":13.33,"type":"quantitative","scale":{"domain":[-3.6,39.55],"nice":false,"zero":false},"axis":null},"y":{"datum":6.3,"type":"quantitative","scale":{"domain":[0,30.5],"nice":false,"zero":false},"axis":null}}},
{"data":{"values":[{}]},"mark":{"type":"text","text":"Father’s Stature:","fontSize":21,"color":"#1d4e8f","align":"left","baseline":"middle"},"encoding":{"x":{"datum":13.33,"type":"quantitative","scale":{"domain":[-3.6,39.55],"nice":false,"zero":false},"axis":null},"y":{"datum":5.67,"type":"quantitative","scale":{"domain":[0,30.5],"nice":false,"zero":false},"axis":null}}},
{"data":{"values":[{}]},"mark":{"type":"text","text":"Gestational","fontSize":21,"color":"#1d4e8f","align":"left","baseline":"middle"},"encoding":{"x":{"datum":24.64,"type":"quantitative","scale":{"domain":[-3.6,39.55],"nice":false,"zero":false},"axis":null},"y":{"datum":6.28,"type":"quantitative","scale":{"domain":[0,30.5],"nice":false,"zero":false},"axis":null}}},
{"data":{"values":[{}]},"mark":{"type":"text","text":"Age:","fontSize":21,"color":"#1d4e8f","align":"left","baseline":"middle"},"encoding":{"x":{"datum":24.77,"type":"quantitative","scale":{"domain":[-3.6,39.55],"nice":false,"zero":false},"axis":null},"y":{"datum":5.66,"type":"quantitative","scale":{"domain":[0,30.5],"nice":false,"zero":false},"axis":null}}},
{"data":{"values":[{}]},"mark":{"type":"text","text":"Weeks","fontSize":21,"color":"#1d4e8f","align":"left","baseline":"middle"},"encoding":{"x":{"datum":29.47,"type":"quantitative","scale":{"domain":[-3.6,39.55],"nice":false,"zero":false},"axis":null},"y":{"datum":5.66,"type":"quantitative","scale":{"domain":[0,30.5],"nice":false,"zero":false},"axis":null}}},
{"data":{"values":[{}]},"mark":{"type":"text","text":"Comment","fontSize":21,"color":"#1d4e8f","align":"center","baseline":"middle"},"encoding":{"x":{"datum":35.25,"type":"quantitative","scale":{"domain":[-3.6,39.55],"nice":false,"zero":false},"axis":null},"y":{"datum":5.51,"type":"quantitative","scale":{"domain":[0,30.5],"nice":false,"zero":false},"axis":null}}},
{"data":{"name":"tHead"},"mark":{"type":"text","fontSize":21,"color":"#1d4e8f","align":"center","baseline":"middle"},"encoding":{"x":{"field":"m","type":"quantitative","scale":{"domain":[-3.6,39.55],"nice":false,"zero":false},"axis":null},"y":{"datum":4.99,"type":"quantitative","scale":{"domain":[0,30.5],"nice":false,"zero":false},"axis":null},"text":{"field":"t"}}},
{"data":{"values":[{}]},"mark":{"type":"rule","color":"#231f20","strokeWidth":1.4},"encoding":{"x":{"datum":18.5,"type":"quantitative","scale":{"domain":[-3.6,39.55],"nice":false,"zero":false},"axis":null},"x2":{"datum":23.91},"y":{"datum":6.15,"type":"quantitative","scale":{"domain":[0,30.5],"nice":false,"zero":false},"axis":null}}},
{"data":{"values":[{}]},"mark":{"type":"rule","color":"#231f20","strokeWidth":1.4},"encoding":{"x":{"datum":18.5,"type":"quantitative","scale":{"domain":[-3.6,39.55],"nice":false,"zero":false},"axis":null},"x2":{"datum":23.91},"y":{"datum":5.526,"type":"quantitative","scale":{"domain":[0,30.5],"nice":false,"zero":false},"axis":null}}},
{"data":{"values":[{}]},"mark":{"type":"rule","color":"#231f20","strokeWidth":1.4},"encoding":{"x":{"datum":26.22,"type":"quantitative","scale":{"domain":[-3.6,39.55],"nice":false,"zero":false},"axis":null},"x2":{"datum":29.28},"y":{"datum":5.526,"type":"quantitative","scale":{"domain":[0,30.5],"nice":false,"zero":false},"axis":null}}}
]},
{"layer":[
{"data":{"name":"len"},"transform":[{"filter":{"field":"sd","oneOf":["1.28","0.67","-0.67","-1.28"]}}],"mark":{"type":"line","color":"#0b97d8","strokeWidth":2.6,"interpolate":"catmull-rom"},"encoding":{"x":{"field":"m","type":"quantitative","scale":{"domain":[-3.6,39.55],"nice":false,"zero":false},"axis":null},"y":{"field":"v","type":"quantitative","scale":{"domain":[-40,112.5],"nice":false,"zero":false},"axis":null},"detail":{"field":"sd"}}},
{"data":{"name":"len"},"transform":[{"filter":{"field":"sd","oneOf":["3.0","2.0","-2.25","-3.0"]}}],"mark":{"type":"line","color":"#0b97d8","strokeWidth":2.6,"strokeDash":[6,3],"interpolate":"catmull-rom"},"encoding":{"x":{"field":"m","type":"quantitative","scale":{"domain":[-3.6,39.55],"nice":false,"zero":false},"axis":null},"y":{"field":"v","type":"quantitative","scale":{"domain":[-40,112.5],"nice":false,"zero":false},"axis":null},"detail":{"field":"sd"}}},
{"data":{"name":"len"},"transform":[{"filter":{"field":"sd","equal":"0.00"}}],"mark":{"type":"line","color":"#ec1c24","strokeWidth":4,"interpolate":"catmull-rom"},"encoding":{"x":{"field":"m","type":"quantitative","scale":{"domain":[-3.6,39.55],"nice":false,"zero":false},"axis":null},"y":{"field":"v","type":"quantitative","scale":{"domain":[-40,112.5],"nice":false,"zero":false},"axis":null}}},
{"data":{"name":"lenLab"},"mark":{"type":"text","fontSize":15,"fontWeight":"bold","color":"#231f20","align":"center","baseline":"middle"},"encoding":{"x":{"field":"m","type":"quantitative","scale":{"domain":[-3.6,39.55],"nice":false,"zero":false},"axis":null},"y":{"field":"v","type":"quantitative","scale":{"domain":[-40,112.5],"nice":false,"zero":false},"axis":null},"text":{"field":"t"}}},
{"data":{"name":"cm"},"mark":{"type":"text","fontSize":25,"fontWeight":"bold","color":"#1a9ad8","align":"right","baseline":"middle"},"encoding":{"x":{"datum":-0.32,"type":"quantitative","scale":{"domain":[-3.6,39.55],"nice":false,"zero":false},"axis":null},"y":{"field":"v","type":"quantitative","scale":{"domain":[-40,112.5],"nice":false,"zero":false},"axis":null},"text":{"field":"v","type":"quantitative"}}},
{"data":{"name":"cm"},"transform":[{"filter":"datum.v >= 85"}],"mark":{"type":"text","fontSize":25,"fontWeight":"bold","color":"#1a9ad8","align":"right","baseline":"middle"},"encoding":{"x":{"datum":37.56,"type":"quantitative","scale":{"domain":[-3.6,39.55],"nice":false,"zero":false},"axis":null},"y":{"field":"v","type":"quantitative","scale":{"domain":[-40,112.5],"nice":false,"zero":false},"axis":null},"text":{"field":"v","type":"quantitative"}}}
]},
{"layer":[
{"data":{"name":"inch"},"transform":[{"filter":"datum.v % 2 == 1"}],"mark":{"type":"rule","color":"#7f76ad","strokeWidth":2},"encoding":{"x":{"datum":-3.6,"type":"quantitative","scale":{"domain":[-3.6,39.55],"nice":false,"zero":false},"axis":null},"x2":{"datum":-2},"y":{"field":"v","type":"quantitative","scale":{"domain":[-15.748,44.291],"nice":false,"zero":false},"axis":null}}},
{"data":{"name":"inch"},"transform":[{"filter":"datum.v % 2 == 0"}],"mark":{"type":"rule","color":"#7f76ad","strokeWidth":2},"encoding":{"x":{"datum":-2.32,"type":"quantitative","scale":{"domain":[-3.6,39.55],"nice":false,"zero":false},"axis":null},"x2":{"datum":-2},"y":{"field":"v","type":"quantitative","scale":{"domain":[-15.748,44.291],"nice":false,"zero":false},"axis":null}}},
{"data":{"name":"inch"},"transform":[{"filter":"datum.v % 2 == 0"}],"mark":{"type":"rule","color":"#bdb8dc","strokeWidth":1.6},"encoding":{"x":{"datum":-3.38,"type":"quantitative","scale":{"domain":[-3.6,39.55],"nice":false,"zero":false},"axis":null},"x2":{"datum":-3.03},"y":{"field":"v","type":"quantitative","scale":{"domain":[-15.748,44.291],"nice":false,"zero":false},"axis":null}}},
{"data":{"name":"inch"},"transform":[{"filter":"datum.v % 1 == 0.5"}],"mark":{"type":"rule","color":"#bdb8dc","strokeWidth":1.6},"encoding":{"x":{"datum":-3.35,"type":"quantitative","scale":{"domain":[-3.6,39.55],"nice":false,"zero":false},"axis":null},"x2":{"datum":-2.32},"y":{"field":"v","type":"quantitative","scale":{"domain":[-15.748,44.291],"nice":false,"zero":false},"axis":null}}},
{"data":{"name":"inch"},"transform":[{"filter":"datum.v >= 33.5 && datum.v % 2 == 1"}],"mark":{"type":"rule","color":"#7f76ad","strokeWidth":2},"encoding":{"x":{"datum":38,"type":"quantitative","scale":{"domain":[-3.6,39.55],"nice":false,"zero":false},"axis":null},"x2":{"datum":39.55},"y":{"field":"v","type":"quantitative","scale":{"domain":[-15.748,44.291],"nice":false,"zero":false},"axis":null}}},
{"data":{"name":"inch"},"transform":[{"filter":"datum.v >= 33.5 && datum.v % 2 == 0"}],"mark":{"type":"rule","color":"#7f76ad","strokeWidth":2},"encoding":{"x":{"datum":38,"type":"quantitative","scale":{"domain":[-3.6,39.55],"nice":false,"zero":false},"axis":null},"x2":{"datum":38.32},"y":{"field":"v","type":"quantitative","scale":{"domain":[-15.748,44.291],"nice":false,"zero":false},"axis":null}}},
{"data":{"name":"inch"},"transform":[{"filter":"datum.v >= 33.5 && datum.v % 2 == 0"}],"mark":{"type":"rule","color":"#7f76ad","strokeWidth":2},"encoding":{"x":{"datum":39.23,"type":"quantitative","scale":{"domain":[-3.6,39.55],"nice":false,"zero":false},"axis":null},"x2":{"datum":39.55},"y":{"field":"v","type":"quantitative","scale":{"domain":[-15.748,44.291],"nice":false,"zero":false},"axis":null}}},
{"data":{"name":"inch"},"transform":[{"filter":"datum.v >= 33.5 && datum.v % 1 == 0.5"}],"mark":{"type":"rule","color":"#bdb8dc","strokeWidth":1.6},"encoding":{"x":{"datum":38,"type":"quantitative","scale":{"domain":[-3.6,39.55],"nice":false,"zero":false},"axis":null},"x2":{"datum":39.3},"y":{"field":"v","type":"quantitative","scale":{"domain":[-15.748,44.291],"nice":false,"zero":false},"axis":null}}},
{"data":{"name":"inch"},"transform":[{"filter":"datum.v % 2 == 0 && datum.v >= 10 && datum.v <= 42"}],"mark":{"type":"text","fontSize":17,"fontWeight":"bold","color":"#1a9ad8","align":"center","baseline":"middle"},"encoding":{"x":{"datum":-2.68,"type":"quantitative","scale":{"domain":[-3.6,39.55],"nice":false,"zero":false},"axis":null},"y":{"field":"v","type":"quantitative","scale":{"domain":[-15.748,44.291],"nice":false,"zero":false},"axis":null},"text":{"field":"v","type":"quantitative"}}},
{"data":{"name":"inch"},"transform":[{"filter":"datum.v % 2 == 0 && datum.v >= 34 && datum.v <= 42"}],"mark":{"type":"text","fontSize":17,"fontWeight":"bold","color":"#1a9ad8","align":"center","baseline":"middle"},"encoding":{"x":{"datum":38.81,"type":"quantitative","scale":{"domain":[-3.6,39.55],"nice":false,"zero":false},"axis":null},"y":{"field":"v","type":"quantitative","scale":{"domain":[-15.748,44.291],"nice":false,"zero":false},"axis":null},"text":{"field":"v","type":"quantitative"}}}
]},
{"layer":[
{"data":{"name":"lb"},"transform":[{"filter":"datum.v <= 26.5 && datum.v % 2 == 1"}],"mark":{"type":"rule","color":"#7f76ad","strokeWidth":2},"encoding":{"x":{"datum":-3.6,"type":"quantitative","scale":{"domain":[-3.6,39.55],"nice":false,"zero":false},"axis":null},"x2":{"datum":-2},"y":{"field":"v","type":"quantitative","scale":{"domain":[0,67.241],"nice":false,"zero":false},"axis":null}}},
{"data":{"name":"lb"},"transform":[{"filter":"datum.v <= 26.5 && datum.v % 2 == 0"}],"mark":{"type":"rule","color":"#7f76ad","strokeWidth":2},"encoding":{"x":{"datum":-2.32,"type":"quantitative","scale":{"domain":[-3.6,39.55],"nice":false,"zero":false},"axis":null},"x2":{"datum":-2},"y":{"field":"v","type":"quantitative","scale":{"domain":[0,67.241],"nice":false,"zero":false},"axis":null}}},
{"data":{"name":"lb"},"transform":[{"filter":"datum.v <= 26.5 && datum.v % 2 == 0"}],"mark":{"type":"rule","color":"#bdb8dc","strokeWidth":1.6},"encoding":{"x":{"datum":-3.38,"type":"quantitative","scale":{"domain":[-3.6,39.55],"nice":false,"zero":false},"axis":null},"x2":{"datum":-3.03},"y":{"field":"v","type":"quantitative","scale":{"domain":[0,67.241],"nice":false,"zero":false},"axis":null}}},
{"data":{"name":"lb"},"transform":[{"filter":"datum.v >= 1 && datum.v <= 26.5 && datum.v % 1 == 0.5"}],"mark":{"type":"rule","color":"#bdb8dc","strokeWidth":1.6},"encoding":{"x":{"datum":-3.35,"type":"quantitative","scale":{"domain":[-3.6,39.55],"nice":false,"zero":false},"axis":null},"x2":{"datum":-2.32},"y":{"field":"v","type":"quantitative","scale":{"domain":[0,67.241],"nice":false,"zero":false},"axis":null}}},
{"data":{"name":"lb"},"transform":[{"filter":"datum.v >= 16 && (datum.v % 2 == 1 || datum.v == 16)"}],"mark":{"type":"rule","color":"#7f76ad","strokeWidth":2},"encoding":{"x":{"datum":38,"type":"quantitative","scale":{"domain":[-3.6,39.55],"nice":false,"zero":false},"axis":null},"x2":{"datum":39.55},"y":{"field":"v","type":"quantitative","scale":{"domain":[0,67.241],"nice":false,"zero":false},"axis":null}}},
{"data":{"name":"lb"},"transform":[{"filter":"datum.v >= 18 && datum.v % 2 == 0"}],"mark":{"type":"rule","color":"#7f76ad","strokeWidth":2},"encoding":{"x":{"datum":38,"type":"quantitative","scale":{"domain":[-3.6,39.55],"nice":false,"zero":false},"axis":null},"x2":{"datum":38.32},"y":{"field":"v","type":"quantitative","scale":{"domain":[0,67.241],"nice":false,"zero":false},"axis":null}}},
{"data":{"name":"lb"},"transform":[{"filter":"datum.v >= 18 && datum.v % 2 == 0"}],"mark":{"type":"rule","color":"#7f76ad","strokeWidth":2},"encoding":{"x":{"datum":39.23,"type":"quantitative","scale":{"domain":[-3.6,39.55],"nice":false,"zero":false},"axis":null},"x2":{"datum":39.55},"y":{"field":"v","type":"quantitative","scale":{"domain":[0,67.241],"nice":false,"zero":false},"axis":null}}},
{"data":{"name":"lb"},"transform":[{"filter":"datum.v >= 16.5 && datum.v % 1 == 0.5"}],"mark":{"type":"rule","color":"#bdb8dc","strokeWidth":1.6},"encoding":{"x":{"datum":38,"type":"quantitative","scale":{"domain":[-3.6,39.55],"nice":false,"zero":false},"axis":null},"x2":{"datum":39.3},"y":{"field":"v","type":"quantitative","scale":{"domain":[0,67.241],"nice":false,"zero":false},"axis":null}}},
{"data":{"name":"lb"},"transform":[{"filter":"datum.v % 2 == 0 && datum.v >= 2 && datum.v <= 26"}],"mark":{"type":"text","fontSize":17,"fontWeight":"bold","color":"#1a9ad8","align":"center","baseline":"middle"},"encoding":{"x":{"datum":-2.68,"type":"quantitative","scale":{"domain":[-3.6,39.55],"nice":false,"zero":false},"axis":null},"y":{"field":"v","type":"quantitative","scale":{"domain":[0,67.241],"nice":false,"zero":false},"axis":null},"text":{"field":"v","type":"quantitative"}}},
{"data":{"name":"lb"},"transform":[{"filter":"datum.v % 2 == 0 && datum.v >= 18 && datum.v <= 52"}],"mark":{"type":"text","fontSize":17,"fontWeight":"bold","color":"#1a9ad8","align":"center","baseline":"middle"},"encoding":{"x":{"datum":38.81,"type":"quantitative","scale":{"domain":[-3.6,39.55],"nice":false,"zero":false},"axis":null},"y":{"field":"v","type":"quantitative","scale":{"domain":[0,67.241],"nice":false,"zero":false},"axis":null},"text":{"field":"v","type":"quantitative"}}}
]}
]
}
